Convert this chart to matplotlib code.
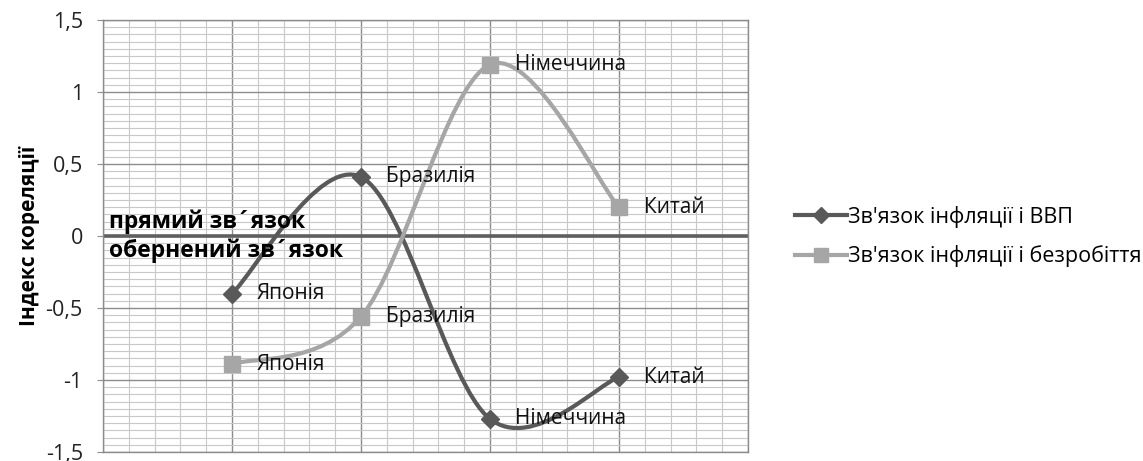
import numpy as np
import matplotlib.pyplot as plt
from matplotlib.path import Path
from matplotlib.patches import PathPatch
from matplotlib.lines import Line2D
from matplotlib.ticker import MultipleLocator, FuncFormatter

plt.rcParams['font.family'] = ['Open Sans', 'DejaVu Sans']

# Data
countries = ['Японія', 'Бразилія', 'Німеччина', 'Китай']
gdp = [-0.40, 0.41, -1.27, -0.98]
unemployment = [-0.89, -0.56, 1.19, 0.20]
series_names = ["Зв'язок інфляції і ВВП", "Зв'язок інфляції і безробіття"]

dark = '#595959'
light = '#a6a6a6'


def smooth_path(xs, ys):
    # Catmull-Rom style Bezier, like a smoothed Excel line
    p = np.column_stack([xs, ys]).astype(float)
    ext = np.vstack([p[0], p, p[-1]])
    verts = [tuple(p[0])]
    codes = [Path.MOVETO]
    for i in range(len(p) - 1):
        a, b, c, d = ext[i], ext[i + 1], ext[i + 2], ext[i + 3]
        c1 = b + (c - a) / 6
        c2 = c - (d - b) / 6
        verts += [tuple(c1), tuple(c2), tuple(c)]
        codes += [Path.CURVE4] * 3
    return Path(verts, codes)


fig = plt.figure(figsize=(11.43, 4.61), dpi=100)
ax = fig.add_axes([0.0901, 0.0195, 0.5643, 0.9371])

x = np.arange(1, len(countries) + 1)
ax.set_xlim(0, len(countries) + 1)
ax.set_ylim(-1.5, 1.5)

# grid
ax.xaxis.set_major_locator(MultipleLocator(1))
ax.xaxis.set_minor_locator(MultipleLocator(0.2))
ax.yaxis.set_major_locator(MultipleLocator(0.5))
ax.yaxis.set_minor_locator(MultipleLocator(0.05))
ax.grid(which='minor', color='#c8c8c8', lw=0.8)
ax.grid(which='major', color='#8c8c8c', lw=1.0)
ax.set_axisbelow(True)
ax.tick_params(axis='x', which='both', length=0, labelbottom=False)
ax.tick_params(axis='y', which='minor', length=0)
ax.tick_params(axis='y', which='major', length=4.5, color='#8c8c8c',
               labelsize=15.5, pad=10, labelcolor='#222222')
ax.yaxis.set_major_formatter(FuncFormatter(
    lambda v, _: ('%g' % v).replace('.', ',')))
for s in ax.spines.values():
    s.set_color('#8c8c8c')
    s.set_linewidth(1.0)

ax.axhline(0, color='#5f5f5f', lw=2.6, zorder=2)

for ys, col, mk, ms in [(gdp, dark, 'D', 9), (unemployment, light, 's', 11)]:
    ax.add_patch(PathPatch(smooth_path(x, ys), facecolor='none',
                           edgecolor=col, lw=3, zorder=3))
    ax.plot(x, ys, ls='none', marker=mk, ms=ms, color=col, zorder=4)
    for xi, yi, name in zip(x, ys, countries):
        ax.annotate(name, (xi, yi), xytext=(18, 0), textcoords='offset points',
                    va='center', ha='left', fontsize=15, color='#111111',
                    zorder=5)

ax.text(0.05, 0.015, 'прямий зв´язок', fontsize=16.5, fontweight='bold',
        va='bottom', ha='left')
ax.text(0.05, -0.02, 'обернений зв´язок', fontsize=16.5, fontweight='bold',
        va='top', ha='left')

ax.set_ylabel('Індекс кореляції', fontsize=15, fontweight='bold')
ax.yaxis.set_label_coords(-0.098, 0.5)

handles = [Line2D([], [], color=dark, lw=3, marker='D', ms=8),
           Line2D([], [], color=light, lw=3, marker='s', ms=10)]
fig.legend(handles, series_names, loc='center left',
           bbox_to_anchor=(0.679, 0.487), frameon=False, fontsize=15.5,
           handlelength=2.4, handletextpad=0.05, labelspacing=0.8)

fig.savefig('out.png', dpi=100)
